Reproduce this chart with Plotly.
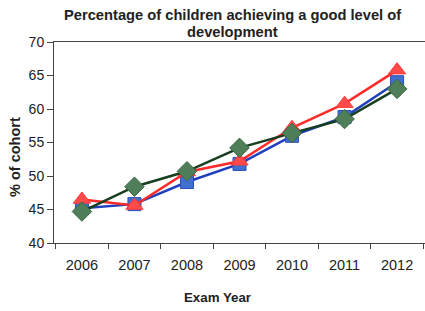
import plotly.graph_objects as go

years = ["2006", "2007", "2008", "2009", "2010", "2011", "2012"]
series_blue = [45.2, 45.8, 49.1, 51.8, 56.0, 58.8, 64.0]
series_red = [46.5, 45.6, 50.6, 52.2, 57.2, 60.8, 65.8]
series_green = [44.7, 48.4, 50.7, 54.2, 56.4, 58.5, 63.0]
y_ticks = [40, 45, 50, 55, 60, 65, 70]

fig = go.Figure()
fig.add_trace(go.Scatter(x=years, y=series_blue, mode="lines+markers",
                         line=dict(color="#1f3fbf", width=2.5),
                         marker=dict(symbol="square", size=13, color="#3f6fd0",
                                     line=dict(color="#2a4fb8", width=1)),
                         showlegend=False))
fig.add_trace(go.Scatter(x=years, y=series_red, mode="lines+markers",
                         line=dict(color="#ff2a2a", width=2.5),
                         marker=dict(symbol="triangle-up", size=15, color="#ff4a4a",
                                     line=dict(color="#ff3a3a", width=1)),
                         showlegend=False))
fig.add_trace(go.Scatter(x=years, y=series_green, mode="lines+markers",
                         line=dict(color="#173f1f", width=2.5),
                         marker=dict(symbol="diamond", size=15, color="#4f7f58",
                                     line=dict(color="#3a6644", width=1)),
                         showlegend=False))

W, H = 425, 311
L, R, T, B = 54, 0, 42, 68

def px_x(x):
    return (x - L) / (W - L - R)

def px_y(y):
    return 1 - (y - T) / (H - T - B)

fig.update_layout(
    width=W, height=H,
    margin=dict(l=L, r=R, t=T, b=B, autoexpand=False),
    paper_bgcolor="white", plot_bgcolor="white",
    font=dict(family="Liberation Sans, Arial, sans-serif", size=14, color="#222"),
    annotations=[
        dict(text="<b>Percentage of children achieving a good level of</b>",
             xref="paper", yref="paper", x=px_x(232), y=px_y(15),
             xanchor="center", yanchor="middle", showarrow=False,
             font=dict(size=14.7, color="#222")),
        dict(text="<b>development</b>",
             xref="paper", yref="paper", x=px_x(232), y=px_y(32),
             xanchor="center", yanchor="middle", showarrow=False,
             font=dict(size=14.7, color="#222")),
        dict(text="<b>Exam Year</b>",
             xref="paper", yref="paper", x=px_x(217), y=px_y(297),
             xanchor="center", yanchor="middle", showarrow=False,
             font=dict(size=13.3, color="#222")),
        dict(text="<b>% of cohort</b>",
             xref="paper", yref="paper", x=px_x(15), y=px_y(157),
             xanchor="center", yanchor="middle", showarrow=False, textangle=-90,
             font=dict(size=14.5, color="#222")),
    ],
)
fig.update_xaxes(type="category", tickson="boundaries", ticks="outside", ticklen=5,
                 tickcolor="#444", showline=True, linecolor="#444", linewidth=1,
                 mirror=True, showgrid=False, automargin=False,
                 ticklabelstandoff=9, tickfont=dict(size=14.5))
fig.update_yaxes(range=[40, 70], tickvals=y_ticks, ticks="outside", ticklen=6,
                 tickcolor="#444", showline=True, linecolor="#444", linewidth=1,
                 showgrid=False, zeroline=False, automargin=False,
                 tickfont=dict(size=14))

fig.write_html("out.html", config={"displayModeBar": False},
               post_script="document.body.style.margin='0';")
